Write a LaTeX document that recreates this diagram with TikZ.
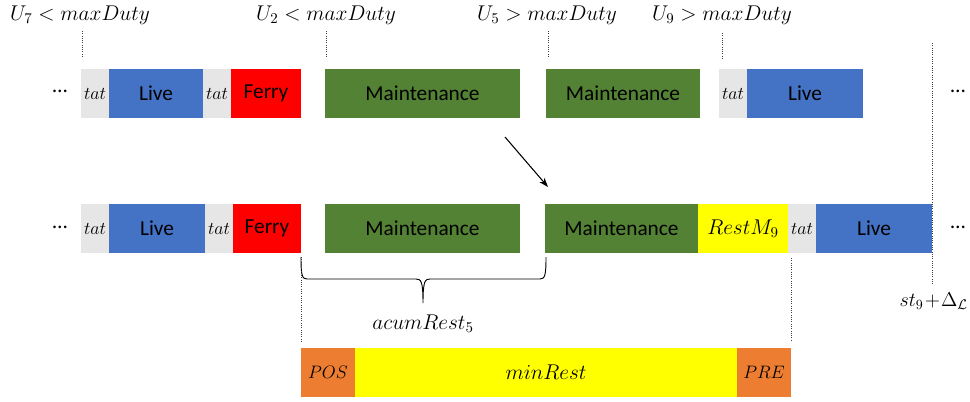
\RequirePackage{fix-cm}
\documentclass[tikz,border=0pt]{standalone}
\usepackage[no-math]{fontspec}
\setmainfont{Carlito}
\usetikzlibrary{arrows.meta}
\definecolor{tatgray}{HTML}{E7E6E6}
\definecolor{liveblue}{HTML}{4472C4}
\definecolor{ferryred}{HTML}{FF0000}
\definecolor{mgreen}{HTML}{548235}
\definecolor{ryellow}{HTML}{FFFF00}
\definecolor{porange}{HTML}{ED7D31}
\begin{document}
\begin{tikzpicture}[x=0.75pt,y=-0.75pt,
  box/.style={inner sep=0pt, outer sep=0pt, minimum height=36.75pt, text=black, font=\fontsize{16}{19}\selectfont},
  wd/.style={minimum width=#1*0.75pt},
  tatbox/.style={box, fill=tatgray, wd=28, font=\fontsize{13.5}{16}\selectfont},
  live/.style={box, fill=liveblue},
  ferry/.style={box, fill=ferryred},
  maint/.style={box, fill=mgreen},
  yel/.style={box, fill=ryellow, font=\fontsize{16}{19}\selectfont},
  ora/.style={box, fill=porange, font=\fontsize{13.5}{16}\selectfont},
  lbl/.style={anchor=base, inner sep=0pt, font=\fontsize{16}{19}\selectfont},
  dots/.style={anchor=base, inner sep=0pt, font=\fontsize{16}{19}\selectfont},
  guide/.style={densely dotted, line width=0.7pt, black!75},
]
\useasboundingbox (0,0) rectangle (970,401);

% top labels
\node[lbl] (u7) at (80,20) {$U_7 < maxDuty$};
\node[lbl] (u2) at (326,20) {$U_2 < maxDuty$};
\node[lbl] (u5) at (547,20) {$U_5 > maxDuty$};
\node[lbl] (u9) at (722,20) {$U_9 > maxDuty$};

% top dotted guides
\coordinate (g1a) at (82,31);  \coordinate (g1b) at (82,58);
\coordinate (g2a) at (326,31); \coordinate (g2b) at (326,58);
\coordinate (g3a) at (548,31); \coordinate (g3b) at (548,57);
\coordinate (g4a) at (722,33); \coordinate (g4b) at (722,60);
\coordinate (g5a) at (932,43); \coordinate (g5b) at (932,284);
\draw[guide] (g1a) -- (g1b);
\draw[guide] (g2a) -- (g2b);
\draw[guide] (g3a) -- (g3b);
\draw[guide] (g4a) -- (g4b);
\draw[guide] (g5a) -- (g5b);

% top row
\node[dots] (td1) at (60,92) {…};
\node[tatbox] (tt1) at (95,93.5) {$tat$};
\node[live, wd=94] (tl1) at (156,93.5) {Live};
\node[tatbox] (tt2) at (217,93.5) {$tat$};
\node[ferry, wd=70] (tf1) at (266,93.5) {Ferry};
\node[maint, wd=195] (tm1) at (422.5,93.5) {Maintenance};
\node[maint, wd=154] (tm2) at (623,93.5) {Maintenance};
\node[tatbox] (tt3) at (733,93.5) {$tat$};
\node[live, wd=116] (tl3) at (805,93.5) {Live};
\node[dots] (td2) at (958,92) {…};

% arrow
\coordinate (a1) at (505,137);
\coordinate (a2) at (548,187);
\draw[line width=0.8pt, -{Stealth[length=7pt,width=5pt]}] (a1) -- (a2);

% bottom row
\node[dots] (bd1) at (60,228) {…};
\node[tatbox] (bt1) at (95,228.5) {$tat$};
\node[live, wd=96] (bl1) at (157,228.5) {Live};
\node[tatbox] (bt2) at (219,228.5) {$tat$};
\node[ferry, wd=68] (bf1) at (267,228.5) {Ferry};
\node[maint, wd=195] (bm1) at (422.5,228.5) {Maintenance};
\node[maint, wd=153] (bm2) at (621.5,228.5) {Maintenance};
\node[yel, wd=90] (br) at (743,228.5) {$RestM_9$};
\node[tatbox] (bt3) at (802,228.5) {$tat$};
\node[live, wd=116] (bl3) at (874,228.5) {Live};
\node[dots] (bd2) at (958,228) {…};

% brace
\coordinate (b1) at (301,257);
\coordinate (b2) at (546,257);
\coordinate (btip) at (423,303);
\draw[line width=0.7pt]
  (b1) .. controls (301,275) and (302,279) .. (307,279) -- (416,279)
  .. controls (421,279) and (423,281) .. (btip)
  .. controls (423,281) and (425,279) .. (430,279) -- (540,279)
  .. controls (545,279) and (546,275) .. (b2);
\node[lbl] (acum) at (423,329) {$acumRest_5$};

% lower dotted guides
\coordinate (g6a) at (301,257); \coordinate (g6b) at (301,342);
\coordinate (g7a) at (791,258); \coordinate (g7b) at (791,341);
\draw[guide] (g6a) -- (g6b);
\draw[guide] (g7a) -- (g7b);

\node[lbl, anchor=base east, font=\fontsize{15}{18}\selectfont] (st) at (968,306) {$st_9 \mathbin{\!+\!} \Delta_{\mathcal{L}}$};

% bottom bar
\node[ora, wd=54] (pos) at (328,372.5) {$POS$};
\node[yel, wd=382] (minr) at (546,372.5) {$minRest$};
\node[ora, wd=54] (pre) at (764,372.5) {$PRE$};
\end{tikzpicture}
\end{document}
